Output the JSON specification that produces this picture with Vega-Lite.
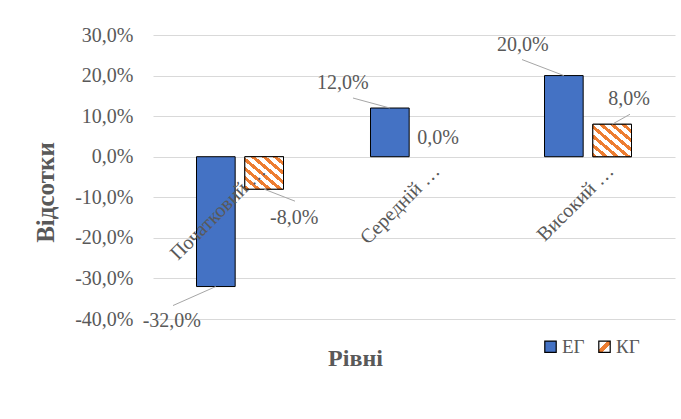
{
  "$schema": "https://vega.github.io/schema/vega-lite/v6.json",
  "width": 522,
  "height": 284,
  "autosize": "none",
  "padding": {"left": 153, "top": 35, "right": 6, "bottom": 100},
  "background": "white",
  "config": {
    "locale": {"number": {"decimal": ",", "thousands": " ", "grouping": [3], "currency": ["", ""], "minus": "-", "percent": "%"}},
    "view": {"stroke": null},
    "font": "Liberation Serif",
    "text": {"font": "Liberation Serif", "color": "#595959"},
    "rule": {"color": "#a6a6a6", "strokeWidth": 1},
    "legend": {"symbolStrokeColor": "#000000", "symbolStrokeWidth": 1.2}
  },
  "data": {"values": [
    {"category": "Початковий", "group": "ЕГ", "value": -0.32},
    {"category": "Початковий", "group": "КГ", "value": -0.08},
    {"category": "Середній", "group": "ЕГ", "value": 0.12},
    {"category": "Середній", "group": "КГ", "value": 0.0},
    {"category": "Високий", "group": "ЕГ", "value": 0.20},
    {"category": "Високий", "group": "КГ", "value": 0.08}
  ]},
  "layer": [
    {
      "mark": {"type": "bar", "strokeWidth": 1},
      "encoding": {
        "x": {"field": "category", "type": "nominal", "sort": ["Початковий", "Середній", "Високий"],
              "scale": {"paddingInner": 0.5, "paddingOuter": 0.25},
              "axis": {"labels": false, "ticks": false, "domain": false, "grid": false, "title": "Рівні",
                       "titleFont": "Liberation Serif", "titleFontSize": 24, "titleFontWeight": "bold", "titleColor": "#595959",
                       "titleX": 202, "titleY": 39, "titleBaseline": "middle", "titleAlign": "center"}},
        "xOffset": {"field": "group", "type": "nominal", "scale": {"paddingInner": 0.2, "paddingOuter": 0}},
        "y": {"field": "value", "type": "quantitative",
              "scale": {"domain": [-0.4, 0.3], "nice": false, "zero": false},
              "axis": {"values": [-0.4, -0.3, -0.2, -0.1, 0, 0.1, 0.2, 0.3], "format": ".1%",
                       "domain": false, "ticks": false, "labelPadding": 20, "gridColor": "#d9d9d9", "gridWidth": 1,
                       "labelFont": "Liberation Serif", "labelFontSize": 20, "labelColor": "#595959",
                       "title": "Відсотки", "titleFont": "Liberation Serif", "titleFontSize": 25, "titleFontWeight": "bold", "titleColor": "#595959",
                       "titleX": -108, "titleY": 157, "titleAngle": -90, "titleAlign": "center", "titleBaseline": "middle"}},
        "fill": {"field": "group", "type": "nominal",
                 "scale": {"domain": ["ЕГ", "КГ"], "range": ["#4472C4", {"expr": "{gradient: 'linear', x1: 0, y1: 0, x2: 1, y2: 1, stops: [{offset: 0, color: '#ffffff'}, {offset: 0.36, color: '#ffffff'}, {offset: 0.36, color: '#ED7D31'}, {offset: 0.64, color: '#ED7D31'}, {offset: 0.64, color: '#ffffff'}, {offset: 1, color: '#ffffff'}]}"}]},
                 "legend": {"orient": "none", "legendX": 388, "legendY": 302, "direction": "horizontal", "title": null,
                            "symbolType": "square", "symbolSize": 130, "symbolStrokeColor": "#000000", "symbolStrokeWidth": 1.2,
                            "labelFont": "Liberation Serif", "labelFontSize": 19, "labelColor": "#595959", "labelOffset": 2, "columnPadding": 10,
                            "encode": {"symbols": {"update": {"stroke": {"value": "#000000"}, "strokeWidth": {"value": 1.2}}}}}},
        "stroke": {"condition": {"test": "datum.value === 0", "value": null}, "value": "#000000"}
      }
    },
    {
      "transform": [{"filter": "datum.group === 'КГ' && datum.value !== 0"}],
      "mark": {"type": "bar", "strokeWidth": 1, "stroke": "#000000",
               "fill": {"gradient": "linear", "x1": 0, "y1": 1, "x2": 1, "y2": 0, "stops": [
                   {"offset": 0, "color": "#ED7D31"}, {"offset": 0.0643, "color": "#ED7D31"}, {"offset": 0.0643, "color": "#ffffff"}, {"offset": 0.1429, "color": "#ffffff"},
                   {"offset": 0.1429, "color": "#ED7D31"}, {"offset": 0.2071, "color": "#ED7D31"}, {"offset": 0.2071, "color": "#ffffff"}, {"offset": 0.2857, "color": "#ffffff"},
                   {"offset": 0.2857, "color": "#ED7D31"}, {"offset": 0.35, "color": "#ED7D31"}, {"offset": 0.35, "color": "#ffffff"}, {"offset": 0.4286, "color": "#ffffff"},
                   {"offset": 0.4286, "color": "#ED7D31"}, {"offset": 0.4929, "color": "#ED7D31"}, {"offset": 0.4929, "color": "#ffffff"}, {"offset": 0.5714, "color": "#ffffff"},
                   {"offset": 0.5714, "color": "#ED7D31"}, {"offset": 0.6357, "color": "#ED7D31"}, {"offset": 0.6357, "color": "#ffffff"}, {"offset": 0.7143, "color": "#ffffff"},
                   {"offset": 0.7143, "color": "#ED7D31"}, {"offset": 0.7786, "color": "#ED7D31"}, {"offset": 0.7786, "color": "#ffffff"}, {"offset": 0.8571, "color": "#ffffff"},
                   {"offset": 0.8571, "color": "#ED7D31"}, {"offset": 0.9214, "color": "#ED7D31"}, {"offset": 0.9214, "color": "#ffffff"}, {"offset": 1, "color": "#ffffff"}
                 ]}},
      "encoding": {
        "x": {"field": "category", "type": "nominal", "sort": ["Початковий", "Середній", "Високий"]},
        "xOffset": {"field": "group", "type": "nominal"},
        "y": {"field": "value", "type": "quantitative"}
      }
    },
    {
      "transform": [{"filter": "datum.category === 'Початковий' && datum.group === 'ЕГ'"}],
      "mark": {"type": "rule", "x2Offset": -67, "y2Offset": 19},
      "encoding": {"x": {"field": "category", "type": "nominal", "sort": ["Початковий", "Середній", "Високий"]}, "xOffset": {"field": "group", "type": "nominal"},
                   "y": {"field": "value", "type": "quantitative"}, "x2": {"field": "category"}, "y2": {"field": "value"}}
    },
    {
      "transform": [{"filter": "datum.category === 'Початковий' && datum.group === 'КГ'"}],
      "mark": {"type": "rule", "x2Offset": 55, "y2Offset": 12},
      "encoding": {"x": {"field": "category", "type": "nominal", "sort": ["Початковий", "Середній", "Високий"]}, "xOffset": {"field": "group", "type": "nominal"},
                   "y": {"field": "value", "type": "quantitative"}, "x2": {"field": "category"}, "y2": {"field": "value"}}
    },
    {
      "transform": [{"filter": "datum.category === 'Середній' && datum.group === 'ЕГ'"}],
      "mark": {"type": "rule", "x2Offset": -61, "y2Offset": -10},
      "encoding": {"x": {"field": "category", "type": "nominal", "sort": ["Початковий", "Середній", "Високий"]}, "xOffset": {"field": "group", "type": "nominal"},
                   "y": {"field": "value", "type": "quantitative"}, "x2": {"field": "category"}, "y2": {"field": "value"}}
    },
    {
      "transform": [{"filter": "datum.category === 'Високий' && datum.group === 'ЕГ'"}],
      "mark": {"type": "rule", "x2Offset": -66, "y2Offset": -16},
      "encoding": {"x": {"field": "category", "type": "nominal", "sort": ["Початковий", "Середній", "Високий"]}, "xOffset": {"field": "group", "type": "nominal"},
                   "y": {"field": "value", "type": "quantitative"}, "x2": {"field": "category"}, "y2": {"field": "value"}}
    },
    {
      "transform": [{"filter": "datum.category === 'Високий' && datum.group === 'КГ'"}],
      "mark": {"type": "rule", "x2Offset": 42, "y2Offset": -10},
      "encoding": {"x": {"field": "category", "type": "nominal", "sort": ["Початковий", "Середній", "Високий"]}, "xOffset": {"field": "group", "type": "nominal"},
                   "y": {"field": "value", "type": "quantitative"}, "x2": {"field": "category"}, "y2": {"field": "value"}}
    },
    {
      "transform": [{"filter": "datum.group === 'ЕГ'"}],
      "mark": {"type": "text", "angle": -45, "align": "right", "baseline": "middle", "dx": 8, "dy": 24, "fontSize": 20, "color": "#595959",
               "text": {"expr": "datum.category + ' …'"}},
      "encoding": {
        "x": {"field": "category", "type": "nominal", "sort": ["Початковий", "Середній", "Високий"]},
        "y": {"datum": 0, "type": "quantitative"}
      }
    },
    {
      "transform": [{"filter": "datum.category === 'Початковий' && datum.group === 'ЕГ'"}],
      "mark": {"type": "text", "dx": -44, "dy": 34, "fontSize": 20, "baseline": "middle"},
      "encoding": {"x": {"field": "category", "type": "nominal", "sort": ["Початковий", "Середній", "Високий"]}, "xOffset": {"field": "group", "type": "nominal"},
                   "y": {"field": "value", "type": "quantitative"}, "text": {"field": "value", "type": "quantitative", "format": ".1%"}}
    },
    {
      "transform": [{"filter": "datum.category === 'Початковий' && datum.group === 'КГ'"}],
      "mark": {"type": "text", "dx": 30, "dy": 29, "fontSize": 20, "baseline": "middle"},
      "encoding": {"x": {"field": "category", "type": "nominal", "sort": ["Початковий", "Середній", "Високий"]}, "xOffset": {"field": "group", "type": "nominal"},
                   "y": {"field": "value", "type": "quantitative"}, "text": {"field": "value", "type": "quantitative", "format": ".1%"}}
    },
    {
      "transform": [{"filter": "datum.category === 'Середній' && datum.group === 'ЕГ'"}],
      "mark": {"type": "text", "dx": -47, "dy": -25, "fontSize": 20, "baseline": "middle"},
      "encoding": {"x": {"field": "category", "type": "nominal", "sort": ["Початковий", "Середній", "Високий"]}, "xOffset": {"field": "group", "type": "nominal"},
                   "y": {"field": "value", "type": "quantitative"}, "text": {"field": "value", "type": "quantitative", "format": ".1%"}}
    },
    {
      "transform": [{"filter": "datum.category === 'Середній' && datum.group === 'КГ'"}],
      "mark": {"type": "text", "dx": 0, "dy": -19, "fontSize": 20, "baseline": "middle"},
      "encoding": {"x": {"field": "category", "type": "nominal", "sort": ["Початковий", "Середній", "Високий"]}, "xOffset": {"field": "group", "type": "nominal"},
                   "y": {"field": "value", "type": "quantitative"}, "text": {"field": "value", "type": "quantitative", "format": ".1%"}}
    },
    {
      "transform": [{"filter": "datum.category === 'Високий' && datum.group === 'ЕГ'"}],
      "mark": {"type": "text", "dx": -41, "dy": -31, "fontSize": 20, "baseline": "middle"},
      "encoding": {"x": {"field": "category", "type": "nominal", "sort": ["Початковий", "Середній", "Високий"]}, "xOffset": {"field": "group", "type": "nominal"},
                   "y": {"field": "value", "type": "quantitative"}, "text": {"field": "value", "type": "quantitative", "format": ".1%"}}
    },
    {
      "transform": [{"filter": "datum.category === 'Високий' && datum.group === 'КГ'"}],
      "mark": {"type": "text", "dx": 17, "dy": -25, "fontSize": 20, "baseline": "middle"},
      "encoding": {"x": {"field": "category", "type": "nominal", "sort": ["Початковий", "Середній", "Високий"]}, "xOffset": {"field": "group", "type": "nominal"},
                   "y": {"field": "value", "type": "quantitative"}, "text": {"field": "value", "type": "quantitative", "format": ".1%"}}
    }
  ]
}
